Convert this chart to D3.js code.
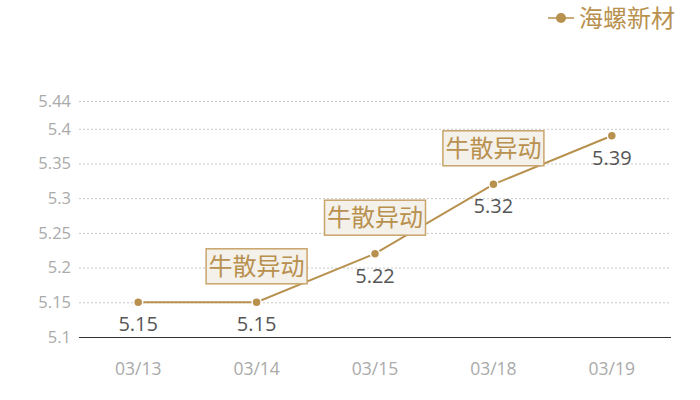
<!DOCTYPE html>
<html><head><meta charset="utf-8">
<script src="https://cdn.jsdelivr.net/npm/d3@7/dist/d3.min.js"></script>
<style>body{margin:0;background:#fff;}svg{display:block;font-family:"Noto Sans CJK SC","Open Sans",sans-serif;}</style>
</head><body><svg id="c" width="700" height="400"></svg>
<script>
const categories = ["03/13","03/14","03/15","03/18","03/19"];
const values = [5.15,5.15,5.22,5.32,5.39];
const annotations = ["","牛散异动","牛散异动","牛散异动",""];
const yTicks = [5.1,5.15,5.2,5.25,5.3,5.35,5.4,5.44];
const seriesName = "海螺新材";

const svg = d3.select("#c");
const gold = "#b8914f";
const x = d3.scaleBand().domain(categories).range([79,671]);
const y = d3.scaleLinear().domain([5.1,5.44]).range([337,101]);
const cx = d => x(d) + x.bandwidth()/2;

// grid
svg.append("g").selectAll("line").data(yTicks.filter(t=>t>5.1)).join("line")
  .attr("x1",79).attr("x2",671).attr("y1",d=>y(d)+0.5).attr("y2",d=>y(d)+0.5)
  .attr("stroke","#c8c8c8").attr("stroke-dasharray","2,2");
// y labels
const yAxis = svg.append("g").attr("transform","translate(79,0)")
  .call(d3.axisLeft(y).tickValues(yTicks).tickSize(0).tickPadding(8).tickFormat(d=>String(+d.toFixed(2))));
yAxis.select(".domain").remove();
yAxis.selectAll("text").attr("fill","#aaaaaa").style("font-size","16.5px").style("font-family","'Open Sans','Noto Sans',sans-serif");
// x axis
const xAxis = svg.append("g").attr("transform","translate(0,337.5)")
  .call(d3.axisBottom(x).tickSize(0).tickPadding(25));
xAxis.select(".domain").attr("stroke","#333").attr("d","M79,0H671");
xAxis.selectAll("text").attr("fill","#aaaaaa").style("font-size","17.5px").style("font-family","'Open Sans','Noto Sans',sans-serif");

const data = categories.map((c,i)=>({c,v:values[i],a:annotations[i]}));
// line
svg.append("path").datum(data)
  .attr("d", d3.line().x(d=>cx(d.c)).y(d=>y(d.v)))
  .attr("fill","none").attr("stroke",gold).attr("stroke-width",2);
svg.append("g").selectAll("circle").data(data).join("circle")
  .attr("cx",d=>cx(d.c)).attr("cy",d=>y(d.v)).attr("r",4.5).attr("fill",gold)
  .attr("stroke","#fff").attr("stroke-width",1.5);
// value labels
svg.append("g").selectAll("text").data(data).join("text")
  .attr("x",d=>cx(d.c)).attr("y",d=>y(d.v)+29).attr("text-anchor","middle")
  .attr("fill","#555").style("font-size","20px").style("font-family","'Open Sans','Noto Sans',sans-serif")
  .text(d=>d.v.toFixed(2));
// annotations
const ann = svg.append("g").selectAll("g").data(data.filter(d=>d.a)).join("g")
  .attr("transform",d=>`translate(${cx(d.c)},${y(d.v)-36})`);
ann.append("rect").attr("x",-50.5).attr("y",-17.5).attr("width",101).attr("height",35)
  .attr("fill","#f4f0ea").attr("stroke","#c9a56c").attr("stroke-width",1.5);
ann.append("text").attr("text-anchor","middle").attr("dy","0.36em")
  .attr("fill",gold).style("font-size","24px").text(d=>d.a);
// legend
const lg = svg.append("g").attr("transform","translate(548,18)");
lg.append("line").attr("x1",0).attr("x2",26).attr("stroke",gold).attr("stroke-width",1.5);
lg.append("circle").attr("cx",13).attr("r",5).attr("fill",gold);
lg.append("text").attr("x",31).attr("dy","0.36em").attr("fill",gold).style("font-size","24px").text(seriesName);
</script></body></html>
